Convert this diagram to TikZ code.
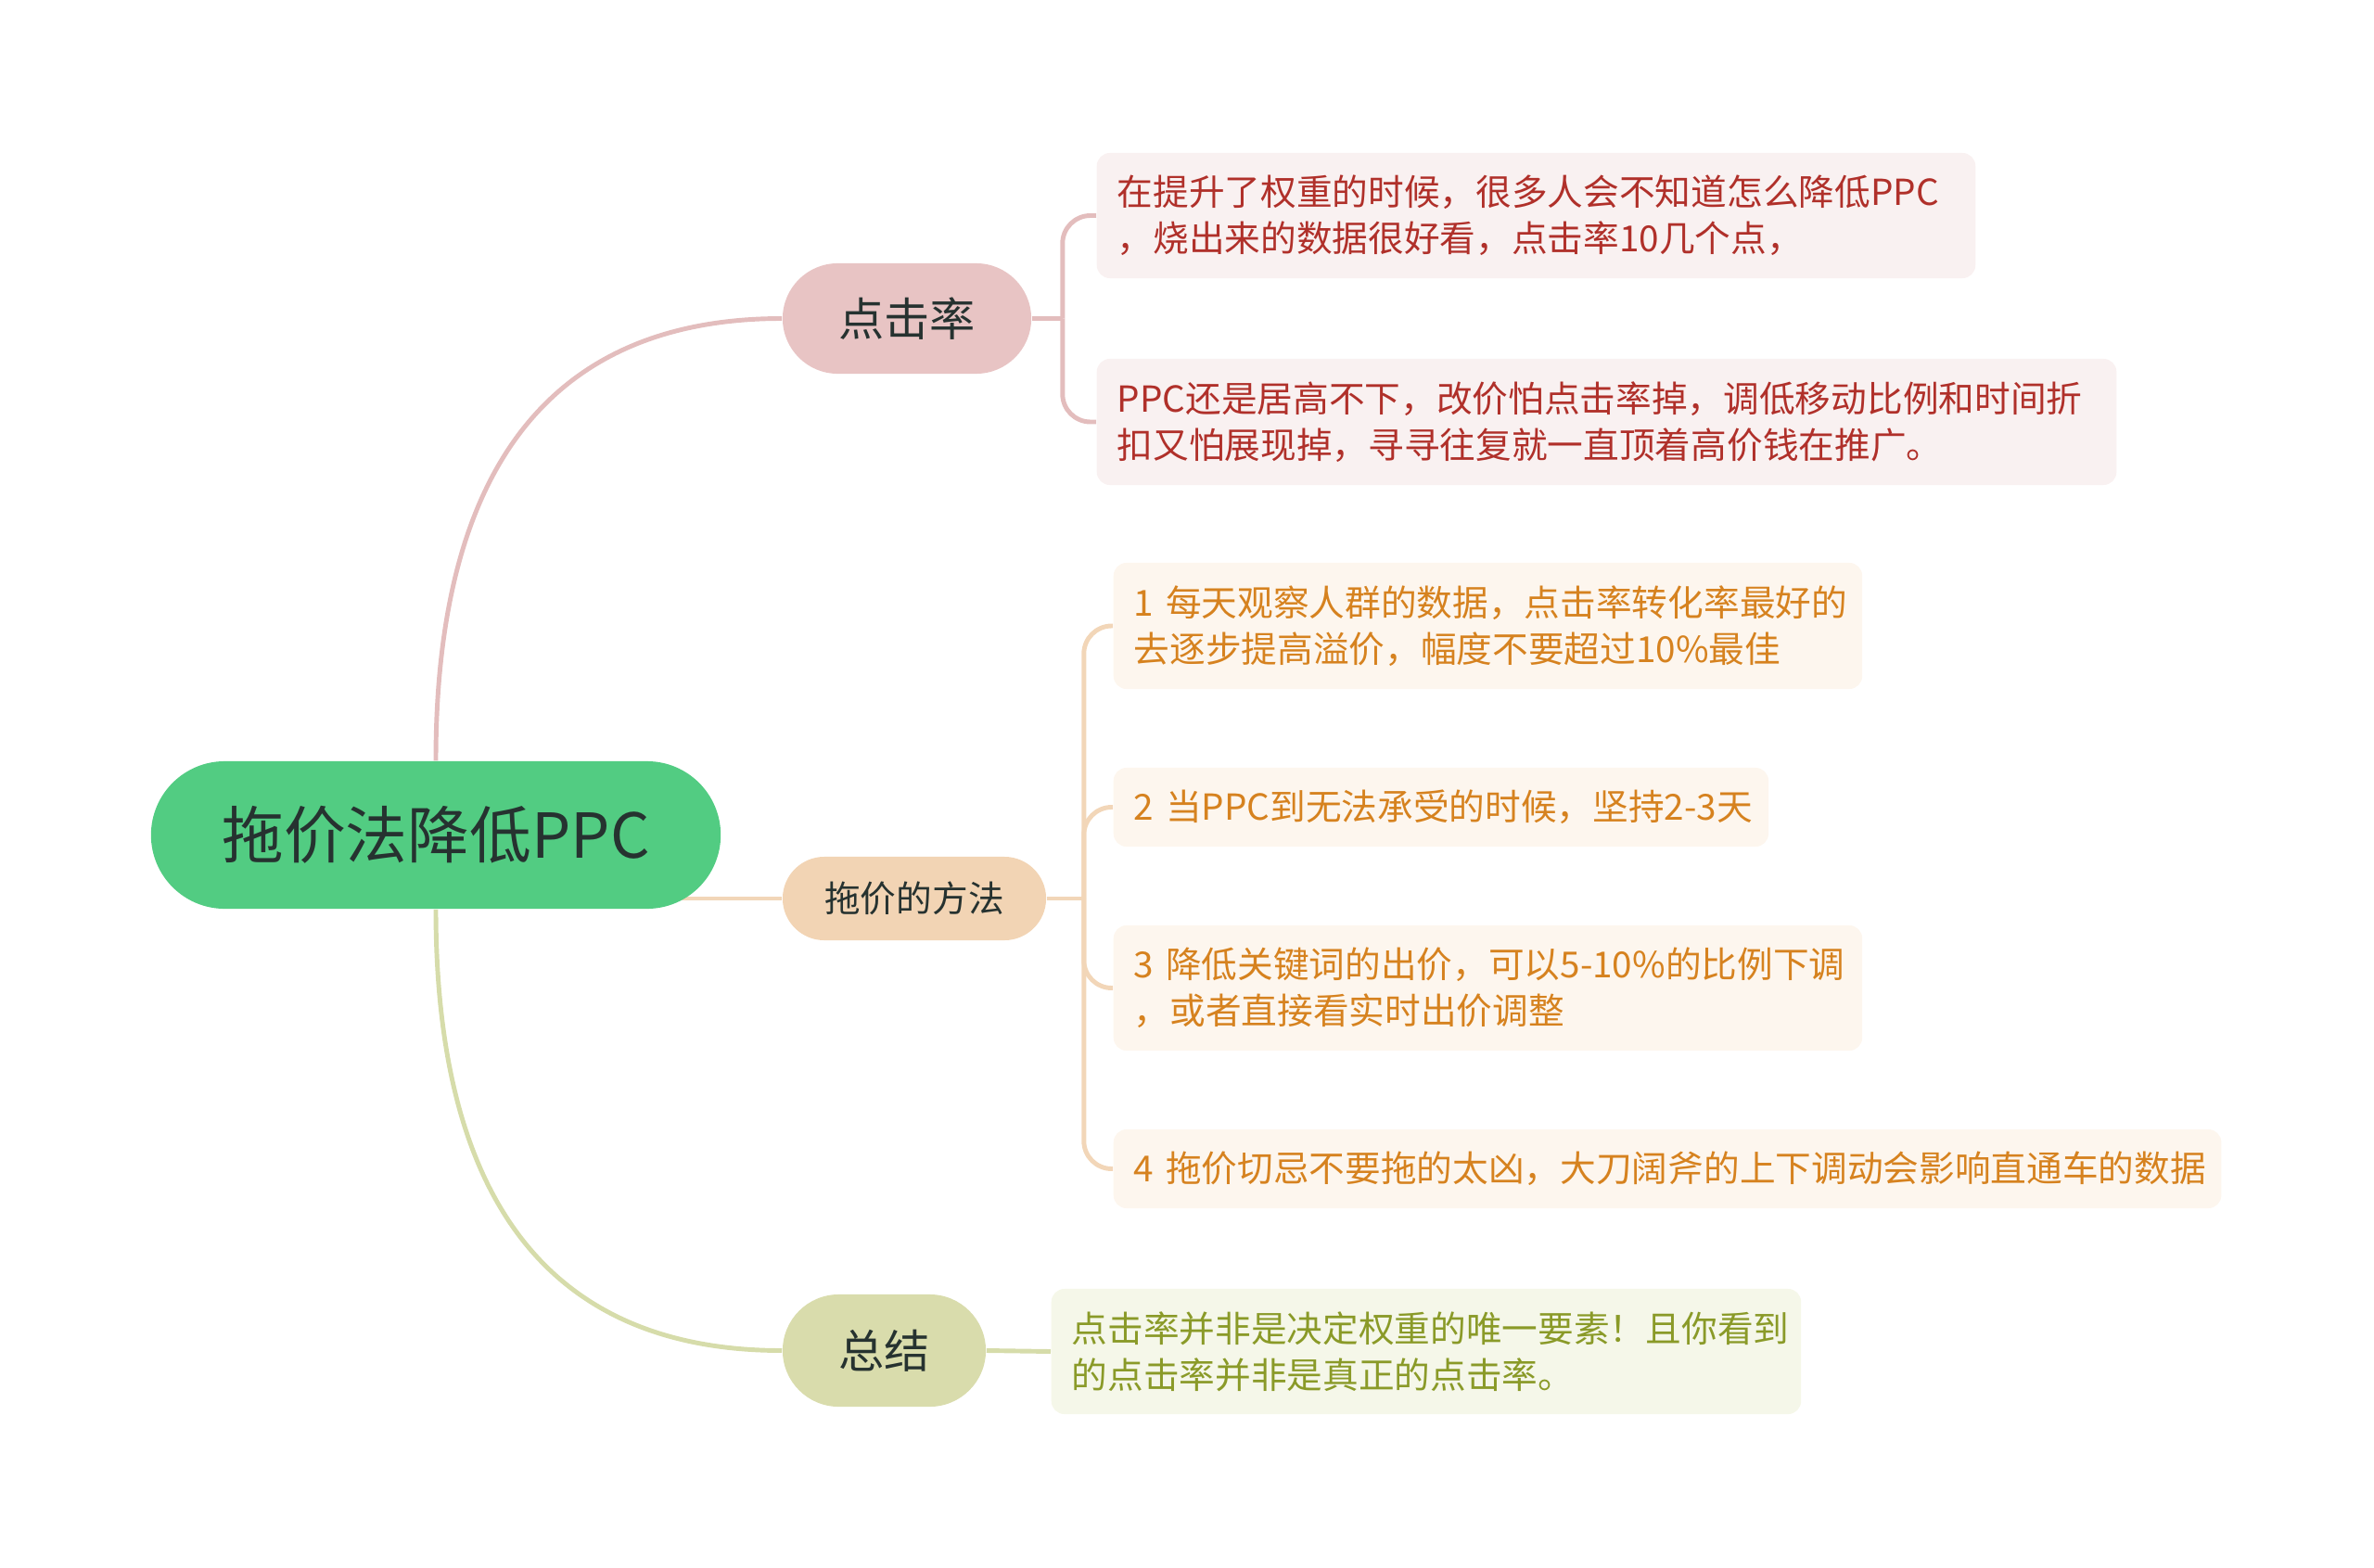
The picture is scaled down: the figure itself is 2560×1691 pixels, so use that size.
\documentclass[tikz,border=0pt]{standalone}
\usepackage{fontspec}
\setmainfont{Noto Sans CJK SC}
\usetikzlibrary{
  backgrounds,
  calc,
}
\definecolor{rootfill}{HTML}{52CC82}
\definecolor{ink}{HTML}{263230}
\definecolor{clickfill}{HTML}{E8C4C4}
\definecolor{clickline}{HTML}{E3BDBD}
\definecolor{clickleaf}{HTML}{F9F1F1}
\definecolor{clicktext}{HTML}{B0302A}
\definecolor{methodfill}{HTML}{F2D4B4}
\definecolor{methodline}{HTML}{F2D6B8}
\definecolor{methodleaf}{HTML}{FDF6EE}
\definecolor{methodtext}{HTML}{D6821F}
\definecolor{sumfill}{HTML}{D9DCAC}
\definecolor{sumline}{HTML}{D6DCAA}
\definecolor{sumleaf}{HTML}{F5F7E9}
\definecolor{sumtext}{HTML}{8A9A28}
\tikzset{
  x=0.01cm,
  y=-0.01cm,
  root/.style={
    fill=rootfill, text=ink, rounded corners=0.795cm,
    minimum width=6.14cm, minimum height=1.59cm, inner sep=0pt,
    font=\fontsize{19}{23}\selectfont,
  },
  topic/.style={
    text=ink, inner sep=0pt, font=\fontsize{14}{17}\selectfont,
  },
  leaf/.style={
    anchor=west, rounded corners=4pt, inner xsep=0.22cm, inner ysep=0pt,
    align=left, font=\fontsize{11}{14.2}\selectfont,
  },
  link/.style={line width=1.4pt},
}
\begin{document}
\begin{tikzpicture}
  \useasboundingbox (0,0) rectangle (2560,1691);
  %%
  \node[root](root) at (470,900.5) {拖价法降低PPC};
  %%
  \node[topic, fill=clickfill, rounded corners=0.595cm,
  minimum width=2.68cm, minimum height=1.19cm]
  (click) at (978,343.5) {点击率};
  \node[topic, fill=methodfill, rounded corners=0.45cm,
  minimum width=2.84cm, minimum height=0.9cm,
  font=\fontsize{11}{14}\selectfont]
  (method) at (986,969) {拖价的方法};
  \node[topic, fill=sumfill, rounded corners=0.605cm,
  minimum width=2.19cm, minimum height=1.21cm]
  (sum) at (953.5,1456.5) {总结};
  %%
  \node[leaf, fill=clickleaf, text=clicktext, text width=9.03cm,
  minimum height=1.35cm]
  (click1) at (1182,232.5)
  {在提升了权重的时候，很多人会不知道怎么降低PPC\\，烧出来的数据很好看，点击率10几个点，};
  \node[leaf, fill=clickleaf, text=clicktext, text width=10.55cm,
  minimum height=1.36cm]
  (click2) at (1182,455)
  {PPC还是居高不下，改价怕点击率掉，调低移动比例和时间折\\扣又怕展现掉，寻寻往复就一直顶着高价钱在推广。};
  %%
  \node[leaf, fill=methodleaf, text=methodtext, text width=7.63cm,
  minimum height=1.36cm]
  (step1) at (1200,675)
  {\mbox{1~每天观察人群的数据，点击率转化率最好的}\\去逐步提高溢价，幅度不要超过10\%最佳};
  \node[leaf, fill=methodleaf, text=methodtext, text width=6.62cm,
  minimum height=0.85cm]
  (step2) at (1200,870.5) {\mbox{2~当PPC到无法承受的时候，坚持2-3天}};
  \node[leaf, fill=methodleaf, text=methodtext, text width=7.63cm,
  minimum height=1.35cm]
  (step3) at (1200,1065.5)
  {\mbox{3~降低关键词的出价，可以5-10\%的比例下调}\\，或者直接看实时出价调整};
  \node[leaf, fill=methodleaf, text=methodtext, text width=11.5cm,
  minimum height=0.85cm]
  (step4) at (1200,1260.5)
  {\mbox{4~拖价切忌不要拖的太凶，大刀阔斧的上下调动会影响直通车的数据}};
  %%
  \node[leaf, fill=sumleaf, text=sumtext, text width=7.64cm,
  minimum height=1.35cm]
  (sum1) at (1133,1457.5)
  {点击率并非是决定权重的唯一要素！且你看到\\的点击率并非是真正的点击率。};
  %%
  \coordinate (jclick) at ($(click.east)+(33,0)$);
  \coordinate (jmethod) at ($(method.east)+(40,0)$);
  %%
  \begin{scope}[on background layer]
    \draw[link, clickline] (root.north)
    .. controls +(0,-318) and +(-247,0) .. (click.west);
    \draw[link, methodline] (root.center |- method.west) -- (method.west);
    \draw[link, sumline] (root.south)
    .. controls +(0,318) and +(-247,0) .. (sum.west);
    %%
    \draw[link, clickline] (click.east) -- (jclick);
    \draw[link, clickline, rounded corners=0.3cm] (jclick) |- (click1.west);
    \draw[link, clickline, rounded corners=0.3cm] (jclick) |- (click2.west);
    %%
    \draw[link, methodline] (method.east) -- (jmethod);
    \foreach \s in {step1,step2,step3,step4}
      \draw[link, methodline, rounded corners=0.3cm] (jmethod) |- (\s.west);
    %%
    \draw[link, sumline] (sum.east) -- (sum1.west);
  \end{scope}
\end{tikzpicture}
\end{document}
